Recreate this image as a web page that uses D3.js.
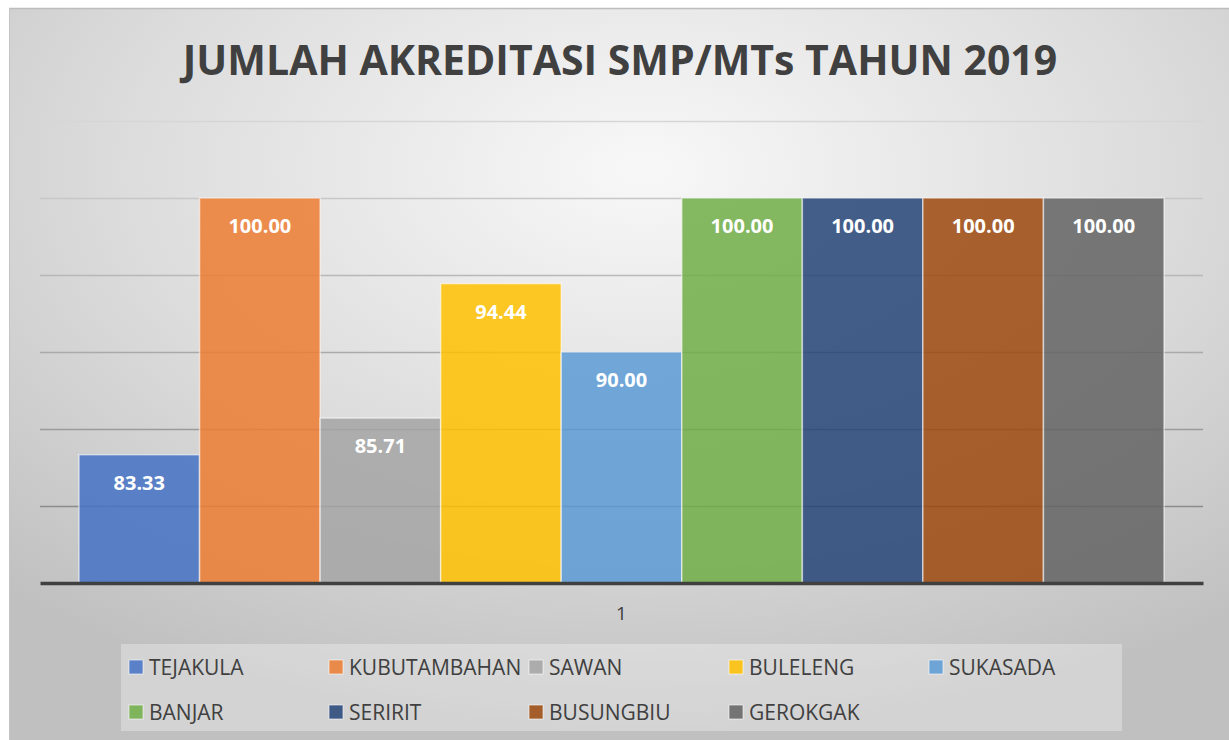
<!DOCTYPE html>
<html>
<head>
<meta charset="utf-8">
<script src="https://cdn.jsdelivr.net/npm/d3@7"></script>
<style>
  html, body { margin: 0; padding: 0; background: #ffffff; }
  svg { display: block; }
</style>
</head>
<body>
<svg id="chart" width="1229" height="740"></svg>
<script>
// Accreditation results per district, one bar each in the single category "1"
const categories = ["1"];
const districts = ["TEJAKULA", "KUBUTAMBAHAN", "SAWAN", "BULELENG", "SUKASADA",
                   "BANJAR", "SERIRIT", "BUSUNGBIU", "GEROKGAK"];
const values = [83.33, 100.00, 85.71, 94.44, 90.00, 100.00, 100.00, 100.00, 100.00];
const colors = ["#4472C4", "#ED7D31", "#A5A5A5", "#FFC000", "#5B9BD5",
                "#70AD47", "#264478", "#9E480E", "#636363"];
const yDomain = [75, 105];
const yTicks = [80, 85, 90, 95, 100, 105];
const title = "JUMLAH AKREDITASI SMP/MTs TAHUN 2019";

const svg = d3.select("#chart");
const W = 1229, H = 740;

// chart area background with soft radial shading
const defs = svg.append("defs");
const grad = defs.append("radialGradient")
  .attr("id", "bg").attr("cx", "52%").attr("cy", "22%").attr("r", "78%")
  .attr("fx", "52%").attr("fy", "22%");
grad.append("stop").attr("offset", "0%").attr("stop-color", "#f8f8f8");
grad.append("stop").attr("offset", "55%").attr("stop-color", "#dcdcdc");
grad.append("stop").attr("offset", "100%").attr("stop-color", "#c0c0c0");

svg.append("rect").attr("x", 9).attr("y", 8).attr("width", W - 9).attr("height", H - 8)
  .attr("fill", "url(#bg)");
svg.append("line").attr("x1", 9).attr("x2", W).attr("y1", 8.5).attr("y2", 8.5)
  .attr("stroke", "#bdbdbd").attr("stroke-width", 1.5);
svg.append("line").attr("x1", 9.5).attr("x2", 9.5).attr("y1", 8).attr("y2", H)
  .attr("stroke", "#c4c4c4").attr("stroke-width", 1);

// title
svg.append("text")
  .attr("x", 620).attr("y", 75)
  .attr("text-anchor", "middle")
  .attr("font-family", "'Open Sans', sans-serif")
  .attr("font-weight", 700)
  .attr("font-size", 41)
  .attr("fill", "#404040")
  .text(title);

// plot geometry
const plot = { left: 40, right: 1203, top: 121, bottom: 583 };

const x0 = d3.scaleBand().domain(categories).range([plot.left, plot.right]).padding(0);
const x1 = d3.scaleBand().domain(districts).range([0, x0.bandwidth()])
  .paddingInner(0).paddingOuter(0.3235);
const y = d3.scaleLinear().domain(yDomain).range([plot.bottom, plot.top]);

// horizontal gridlines, getting darker toward the baseline
const gridColor = d3.scaleLinear().domain([105, 80]).range(["#d6d6d6", "#8c8c8c"]);
const grid = svg.append("g")
  .attr("transform", `translate(${plot.left},0)`)
  .call(d3.axisLeft(y).tickValues(yTicks).tickSize(-(plot.right - plot.left)).tickFormat(""));
grid.select(".domain").remove();
grid.selectAll(".tick line")
  .attr("stroke", d => gridColor(d))
  .attr("stroke-width", 1.5);

// bars
const group = svg.append("g")
  .selectAll("g")
  .data(categories)
  .join("g")
  .attr("transform", d => `translate(${x0(d)},0)`);

const bars = group.selectAll("g.bar")
  .data(() => districts.map((name, i) => ({ name, value: values[i], color: colors[i] })))
  .join("g").attr("class", "bar");

bars.append("rect")
  .attr("x", d => x1(d.name))
  .attr("y", d => y(d.value))
  .attr("width", x1.bandwidth())
  .attr("height", d => y(yDomain[0]) - y(d.value))
  .attr("fill", d => d.color)
  .attr("fill-opacity", 0.85)
  .attr("stroke", "rgba(255,255,255,0.55)")
  .attr("stroke-width", 1.5);

bars.append("text")
  .attr("x", d => x1(d.name) + x1.bandwidth() / 2)
  .attr("y", d => y(d.value) + 35)
  .attr("text-anchor", "middle")
  .attr("font-family", "'Open Sans', sans-serif")
  .attr("font-weight", 700)
  .attr("font-size", 20)
  .attr("fill", "#ffffff")
  .text(d => d3.format(".2f")(d.value));

// category axis with heavy baseline
const xAxis = svg.append("g")
  .attr("transform", `translate(0,${plot.bottom})`)
  .call(d3.axisBottom(x0).tickSize(0).tickPadding(24));
xAxis.select(".domain")
  .attr("stroke", "#404040")
  .attr("stroke-width", 3.5);
xAxis.selectAll(".tick text")
  .attr("font-family", "'Open Sans', sans-serif")
  .attr("font-size", 19)
  .attr("fill", "#404040");

// legend
const legend = svg.append("g");
legend.append("rect")
  .attr("x", 121).attr("y", 644).attr("width", 1001).attr("height", 87)
  .attr("fill", "#ffffff").attr("fill-opacity", 0.3);

const cols = 5, colW = 200, rowH = 45;
const items = legend.selectAll("g.item")
  .data(districts.map((name, i) => ({ name, color: colors[i], i })))
  .join("g").attr("class", "item")
  .attr("transform", d => `translate(${129 + (d.i % cols) * colW},${667 + Math.floor(d.i / cols) * rowH})`);

items.append("rect")
  .attr("x", 0).attr("y", -7).attr("width", 14).attr("height", 14)
  .attr("fill", d => d.color).attr("fill-opacity", 0.85)
  .attr("stroke", "rgba(255,255,255,0.6)").attr("stroke-width", 1);

items.append("text")
  .attr("x", 20).attr("y", 7.5)
  .attr("font-family", "'Open Sans', sans-serif")
  .attr("font-size", 21)
  .attr("fill", "#404040")
  .text(d => d.name);
</script>
</body>
</html>
